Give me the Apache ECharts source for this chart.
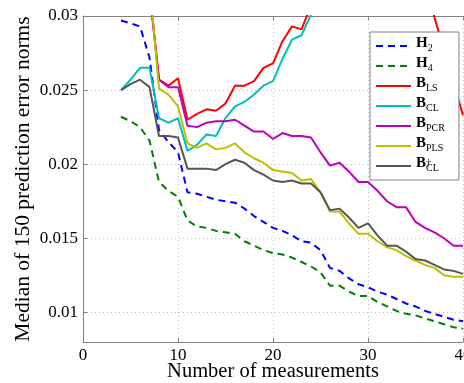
<!DOCTYPE html>
<html>
<head>
<meta charset="utf-8">
<script src="https://cdn.jsdelivr.net/npm/echarts@6/dist/echarts.min.js"></script>
<style>
* { margin: 0; padding: 0; }
#chart-container { width: 464px; height: 383px; background: #fff; }
</style>
</head>
<body>
<div id="chart-container"></div>
<script>
// number of measurements: 4 .. 40
const measurements = []
for (let n = 4; n <= 40; n++) measurements.push(n)

const yTicks = [0.01, 0.015, 0.02, 0.025, 0.03]
const xTicks = [0, 10, 20, 30, 40]

const h2 = [0.0297, 0.0295, 0.0293, 0.0272, 0.0223, 0.0215, 0.0208, 0.0181, 0.0180, 0.0178,
  0.0176, 0.0175, 0.0174, 0.0170, 0.0165, 0.0161, 0.0157, 0.0155, 0.0152, 0.0148,
  0.0147, 0.0142, 0.0130, 0.0128, 0.0123, 0.0119, 0.0117, 0.0114, 0.0112, 0.0109,
  0.0106, 0.0104, 0.0101, 0.0099, 0.0097, 0.0095, 0.0094]
const h4 = [0.0232, 0.0229, 0.0225, 0.0216, 0.0188, 0.0182, 0.0178, 0.0162, 0.0158, 0.0157,
  0.0155, 0.0154, 0.0153, 0.0148, 0.0145, 0.0142, 0.0140, 0.0139, 0.0137, 0.0134,
  0.0131, 0.0127, 0.0118, 0.0118, 0.0114, 0.0111, 0.0111, 0.0107, 0.0104, 0.0101,
  0.0099, 0.0098, 0.0096, 0.0094, 0.0092, 0.0090, 0.0089]
// values above 0.03 are off the plot; null where the curve is never visible
const bLS = [null, null, null, 0.0318, 0.0257, 0.0253, 0.0258, 0.0230, 0.0234, 0.0237,
  0.0236, 0.0241, 0.0253, 0.0253, 0.0256, 0.0265, 0.0268, 0.0283, 0.0293, 0.0291,
  0.0307, null, null, null, null, null, null, null, null, null,
  null, null, 0.0322, 0.0299, 0.0277, 0.0255, 0.0233]
const bCL = [0.0250, 0.0257, 0.0265, 0.0265, 0.0231, 0.0228, 0.0231, 0.0209, 0.0213, 0.0220,
  0.0219, 0.0231, 0.0239, 0.0242, 0.0247, 0.0253, 0.0256, 0.0271, 0.0284, 0.0287,
  0.0301, null, null, null, null, null, null, null, null, null,
  null, null, null, null, null, null, null]
const bPCR = [null, null, null, 0.0317, 0.0257, 0.0252, 0.0252, 0.0226, 0.0225, 0.0228,
  0.0229, 0.0229, 0.0230, 0.0226, 0.0222, 0.0222, 0.0217, 0.0221, 0.0219, 0.0219,
  0.0218, 0.0208, 0.0199, 0.0201, 0.0195, 0.0188, 0.0188, 0.0182, 0.0175, 0.0171,
  0.0171, 0.0161, 0.0157, 0.0154, 0.0150, 0.0145, 0.0145]
const bPLS = [null, null, null, 0.0324, 0.0251, 0.0247, 0.0239, 0.0214, 0.0211, 0.0214,
  0.0210, 0.0211, 0.0214, 0.0208, 0.0204, 0.0201, 0.0196, 0.0195, 0.0194, 0.0189,
  0.0190, 0.0181, 0.0168, 0.0168, 0.0160, 0.0153, 0.0153, 0.0148, 0.0144, 0.0142,
  0.0138, 0.0135, 0.0132, 0.0130, 0.0125, 0.0124, 0.0124]
const bCLdag = [0.0250, 0.0254, 0.0257, 0.0252, 0.0219, 0.0219, 0.0218, 0.0197, 0.0197, 0.0197,
  0.0196, 0.0200, 0.0203, 0.0201, 0.0196, 0.0193, 0.0189, 0.0188, 0.0189, 0.0187,
  0.0187, 0.0181, 0.0169, 0.0170, 0.0164, 0.0157, 0.0160, 0.0152, 0.0145, 0.0145,
  0.0141, 0.0136, 0.0135, 0.0132, 0.0129, 0.0128, 0.0126]

const legendLabels = {
  H2: '{b|H}{s|2}',
  H4: '{b|H}{s|4}',
  BLS: '{b|B}{s|LS}',
  BCL: '{b|B}{s|CL}',
  BPCR: '{b|B}{s|PCR}',
  BPLS: '{b|B}{s|PLS}',
  BCLdag: '{b|B}{d|†}{s|CL}'
}

const serif = 'Liberation Serif'
const chart = echarts.init(document.getElementById('chart-container'), null, { renderer: 'canvas' })

const pair = (arr) => arr.map((v, i) => [measurements[i], v])
const mkSeries = (name, data, color, dashed) => ({
  name: name,
  type: 'line',
  data: pair(data),
  symbol: 'none',
  showSymbol: false,
  clip: true,
  connectNulls: false,
  lineStyle: { color: color, width: 2, type: dashed ? [7, 5] : 'solid' },
  itemStyle: { color: color }
})

const gridLine = { show: true, lineStyle: { color: '#c0c0c0', type: [1, 3], width: 1 } }
const frame = { show: true, lineStyle: { color: '#808080', width: 1 } }

const option = {
  animation: false,
  backgroundColor: '#fff',
  grid: {
    left: 83, right: 1, top: 16, bottom: 41,
    outerBoundsMode: 'none'
  },
  legend: {
    orient: 'vertical',
    left: 370, top: 32,
    padding: [4, 14, 4, 5],
    itemGap: 0,
    itemWidth: 35,
    itemHeight: 14,
    backgroundColor: '#fff',
    borderColor: '#808080',
    borderWidth: 1,
    selectedMode: false,
    itemStyle: { opacity: 0, color: 'transparent', borderColor: 'transparent' },
    formatter: (name) => legendLabels[name],
    textStyle: {
      rich: {
        b: { fontFamily: serif, fontWeight: 'bold', fontSize: 15, color: '#000', lineHeight: 15, padding: [0, 0, 5, 0] },
        s: { fontFamily: serif, fontSize: 10, color: '#000', lineHeight: 10, verticalAlign: 'bottom' },
        d: { fontFamily: serif, fontSize: 10, color: '#000', lineHeight: 10, verticalAlign: 'top', width: 0 }
      }
    },
    data: ['H2', 'H4', 'BLS', 'BCL', 'BPCR', 'BPLS', 'BCLdag']
  },
  xAxis: [{
    type: 'value',
    min: 0, max: 40, interval: 10,
    name: 'Number of measurements',
    nameLocation: 'middle',
    nameGap: 19,
    nameMoveOverlap: false,
    nameTextStyle: { fontFamily: serif, fontSize: 20.5, color: '#000' },
    axisLine: frame,
    axisTick: { show: true, inside: true, length: 4, lineStyle: { color: '#808080' } },
    axisLabel: { fontFamily: serif, fontSize: 17, color: '#000', margin: 5, customValues: xTicks },
    splitLine: gridLine
  }, {
    // top frame line only
    type: 'value',
    position: 'top',
    min: 0, max: 40, interval: 10,
    axisLine: frame,
    axisTick: { show: true, inside: true, length: 4, lineStyle: { color: '#808080' } },
    axisLabel: { show: false },
    splitLine: { show: false }
  }],
  yAxis: {
    type: 'value',
    min: 0.008, max: 0.03,
    name: 'Median of 150 prediction error norms',
    nameLocation: 'middle',
    nameGap: 49,
    nameMoveOverlap: false,
    nameTextStyle: { fontFamily: serif, fontSize: 21.5, color: '#000' },
    axisLine: frame,
    axisTick: { show: true, inside: true, length: 4, customValues: yTicks, lineStyle: { color: '#808080' } },
    axisLabel: { fontFamily: serif, fontSize: 17, color: '#000', margin: 5, customValues: yTicks, formatter: (v) => String(+v.toFixed(3)) },
    splitLine: gridLine
  },
  series: [
    mkSeries('H2', h2, '#0000ff', true),
    mkSeries('H4', h4, '#008000', true),
    mkSeries('BLS', bLS, '#ff0000', false),
    mkSeries('BCL', bCL, '#00bfbf', false),
    mkSeries('BPCR', bPCR, '#bf00bf', false),
    mkSeries('BPLS', bPLS, '#bfbf00', false),
    mkSeries('BCLdag', bCLdag, '#555555', false)
  ]
}

chart.setOption(option)
</script>
</body>
</html>
